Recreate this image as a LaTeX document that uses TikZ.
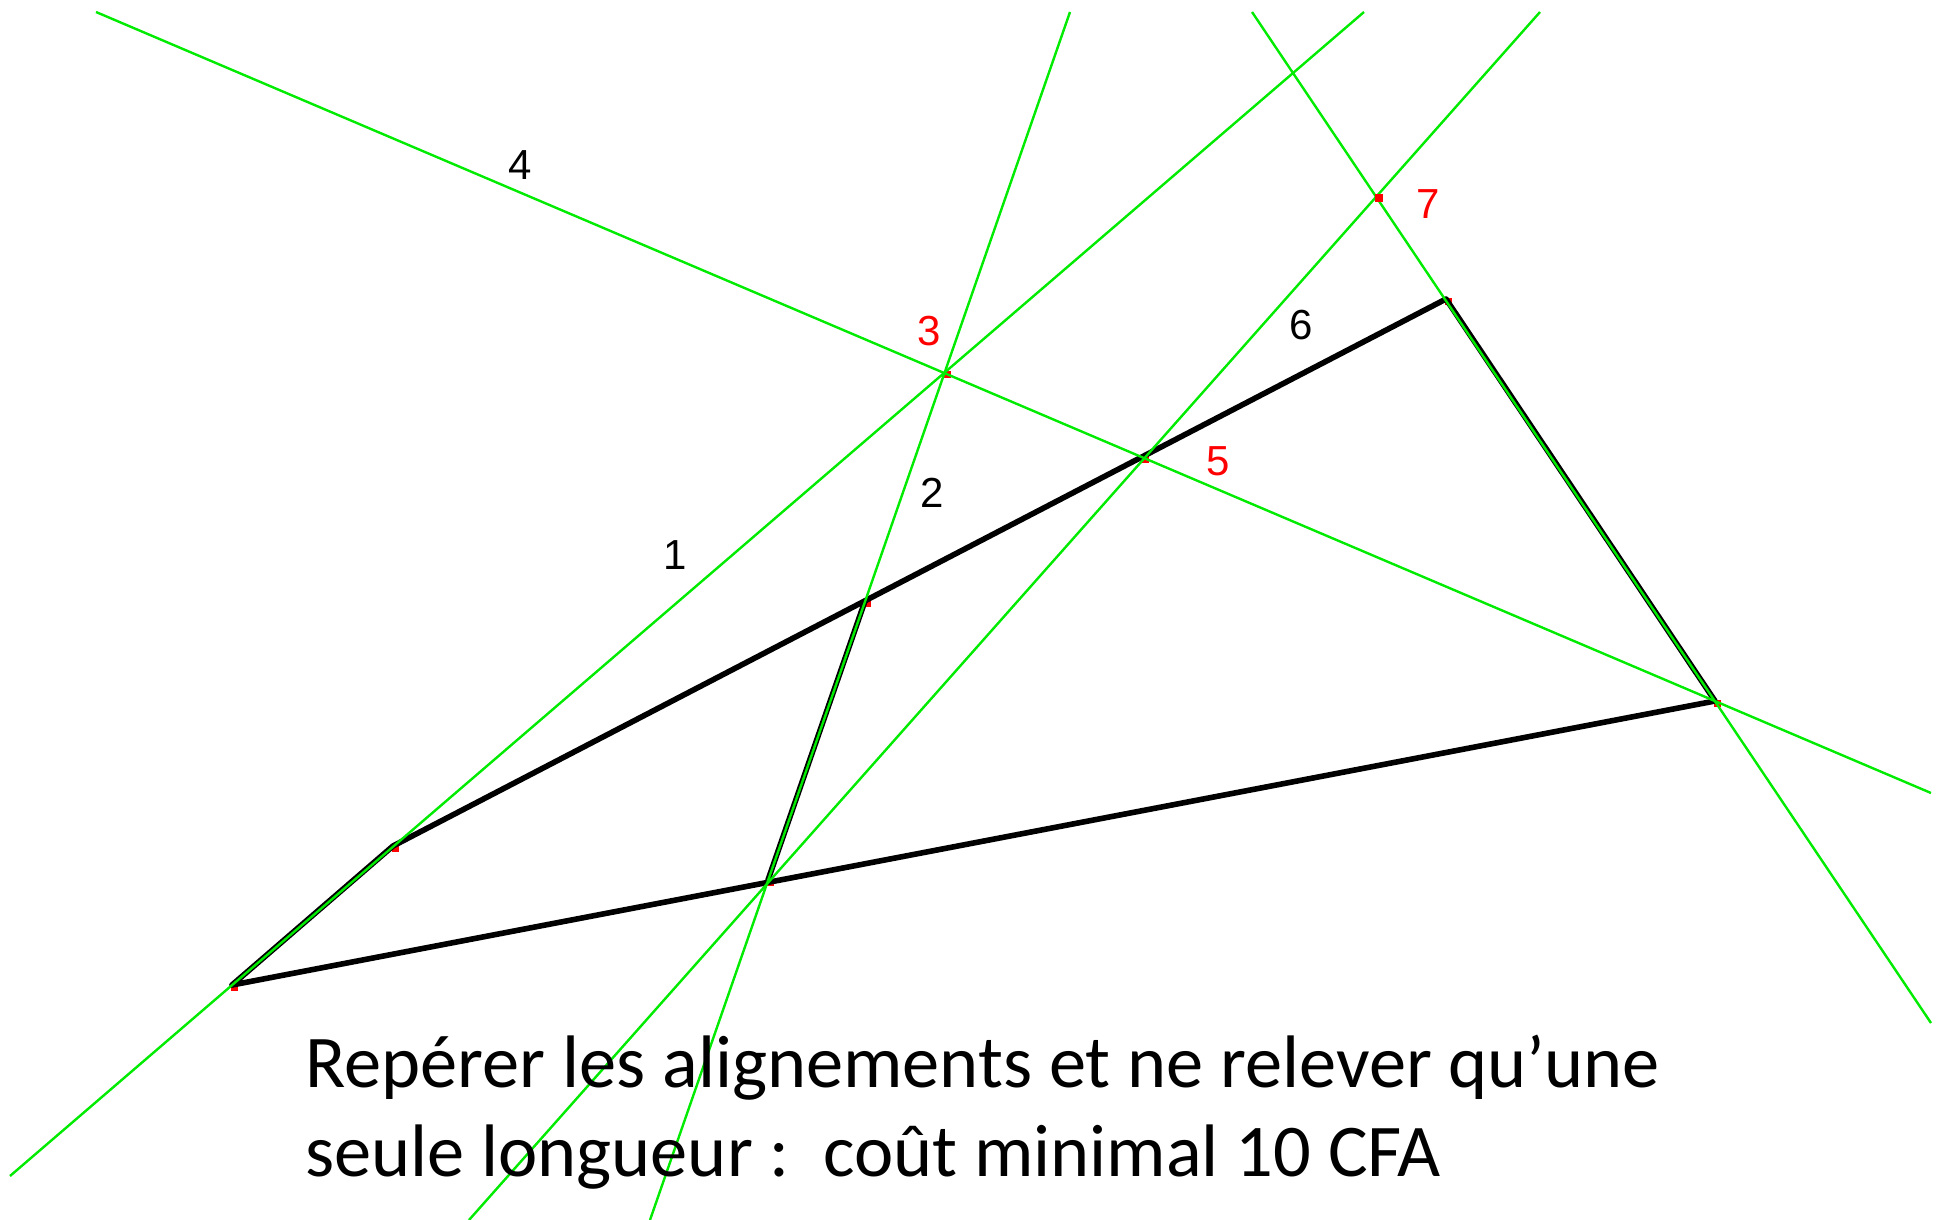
\documentclass[tikz,border=0pt]{standalone}
\usepackage{fontspec}
\setmainfont{Carlito}
\newfontfamily\arialfont{Liberation Sans}
\usepackage{xcolor}
\usetikzlibrary{positioning}

\definecolor{guidegreen}{RGB}{0,235,0}
\definecolor{markred}{RGB}{255,0,0}

\begin{document}
\begin{tikzpicture}[x=0.5pt, y=-0.5pt,
  guide/.style={draw=guidegreen, line width=1.2pt},
  edge/.style={draw=black, line width=2.8pt, line cap=round, line join=round},
  vertexmark/.style={fill=markred, inner sep=0pt, minimum size=#1, rectangle},
  vertexmark/.default=3.5pt,
  num/.style={font=\arialfont\fontsize{21}{21}\selectfont, inner sep=0pt},
  rednum/.style={num, text=markred},
  caption/.style={font=\fontsize{37.2}{44.5}\selectfont, inner sep=0pt, anchor=base west},
]
\useasboundingbox (0,0) rectangle (1943,1220);

% sommets
\coordinate (A) at (232,985);
\coordinate (B) at (393,846);
\coordinate (C) at (865,601);
\coordinate (D) at (768,880);
\coordinate (E) at (1143,457);
\coordinate (F) at (1446,299);
\coordinate (G) at (1715,701);
\coordinate (P3) at (945,372);
\coordinate (P7) at (1377,197);

% bouts des droites
\coordinate (l1a) at (10,1176);   \coordinate (l1b) at (1364,12);
\coordinate (l2a) at (650,1220);  \coordinate (l2b) at (1070,12);
\coordinate (l4a) at (96,12);     \coordinate (l4b) at (1931,793);
\coordinate (l6a) at (469,1220);  \coordinate (l6b) at (1540,12);
\coordinate (l7a) at (1252,12);   \coordinate (l7b) at (1931,1023);

\foreach \p in {A,B,C,D,E,F,G,P3}
  \node[vertexmark] (m\p) at ([shift={(2,2)}]\p) {};

\draw[edge] (A) -- (B) -- (F) -- (G) -- (A);
\draw[edge] (C) -- (D);

\draw[guide] (l1a) -- (l1b);
\draw[guide] (l2a) -- (l2b);
\draw[guide] (l4a) -- (l4b);
\draw[guide] (l6a) -- (l6b);
\draw[guide] (l7a) -- (l7b);

\node[vertexmark=4pt] (mP7) at ([shift={(2,1)}]P7) {};

\node[num] (n1) at (675,555) {1};
\node[num] (n2) at (932,493) {2};
\node[rednum] (n3) at (929,331) {3};
\node[num] (n4) at (520,165) {4};
\node[rednum] (n5) at (1218,461) {5};
\node[num] (n6) at (1301,325) {6};
\node[rednum] (n7) at (1428,204) {7};

\node[caption] (cap1) at (305,1087) {Repérer les alignements et ne relever qu’une};
\node[caption] (cap2) at ([yshift=-44.5pt]cap1.base west) {seule longueur :\ \ coût minimal 10 CFA};
\end{tikzpicture}
\end{document}
